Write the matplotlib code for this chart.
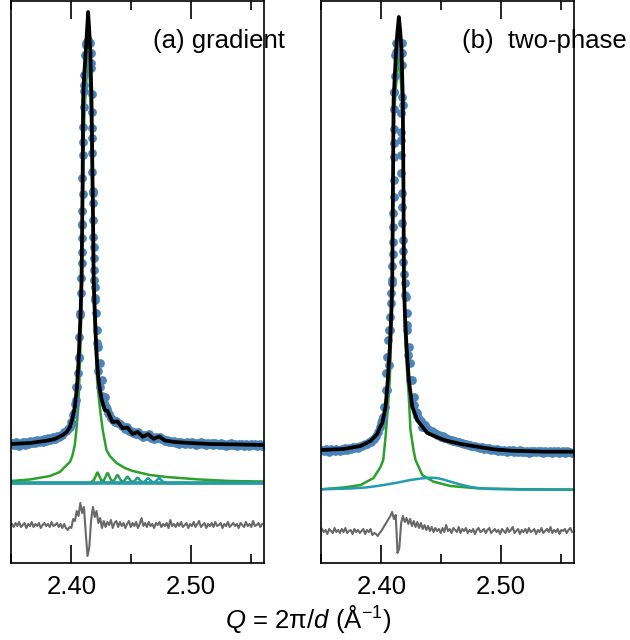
import numpy as np
import matplotlib
matplotlib.use('Agg')
import matplotlib.pyplot as plt
from matplotlib.ticker import MultipleLocator, FormatStrFormatter
from matplotlib.colors import to_rgb

plt.rcParams['font.family'] = ['Liberation Sans', 'DejaVu Sans']
plt.rcParams['mathtext.fontset'] = 'custom'
plt.rcParams['mathtext.rm'] = 'Liberation Sans'
plt.rcParams['mathtext.it'] = 'Liberation Sans:italic'

Q_MIN, Q_MAX = 2.3497, 2.5606
# observed data and residual are sampled on a regular Q grid
GRID_START, GRID_STEP = 2.3505, 0.0015

# ---------------- (a) gradient ----------------
a_obs = [40.5, 38, 41, 39.5, 37.5, 40, 41, 38.5, 41, 39,
         42, 40, 42, 40, 43, 41, 43.5, 41, 44, 42.5,
         45, 43, 44, 46, 44, 47, 46, 48.5, 48, 51,
         52, 54, 56.5,
         61, 68, 79, 96, 125, 168, 258, 398, 438, 443, 441, 420, 290, 185, 140, 112,
         96, 87, 80, 76, 74, 69, 65, 63, 61, 62, 60, 59, 57, 56, 54, 56, 52, 52,
         50, 51, 49, 51, 48, 48, 46, 48, 47, 49, 45, 46, 44, 46, 45, 46, 44, 44,
         42, 43, 41, 42.5, 41, 42, 40.5,
         41, 39.5, 41.5, 40, 39, 41, 40.5, 39, 41, 40,
         38.5, 40.5, 39.5, 41, 39, 40, 38.5, 40.5, 39, 40,
         38, 40, 39.5, 38, 40, 38.5, 39.5, 37.5, 39.5, 38.5,
         40, 38, 39, 37.5, 39.5, 38, 39, 37.5, 39, 38.5,
         37.5, 39.5, 38, 39, 37.5, 38.5, 39, 37.5]

# extra observed points on the steep flanks of the peak
a_peak_q = [2.4121, 2.4113, 2.4107, 2.4104, 2.4102, 2.4100, 2.4098, 2.4100, 2.4093,
            2.4096, 2.4090, 2.4088, 2.4088, 2.4085, 2.4085, 2.4081, 2.4077, 2.4071,
            2.4065, 2.4060, 2.4052, 2.4043, 2.4035, 2.4021, 2.4004,
            2.4154, 2.4167, 2.4168, 2.4171, 2.4171, 2.4173, 2.4173, 2.4173, 2.4175,
            2.4177, 2.4182, 2.4182, 2.4183, 2.4188, 2.4190, 2.4192, 2.4192, 2.4196,
            2.4200, 2.4207, 2.4215, 2.4225, 2.4238, 2.4257, 2.4279, 2.4307]
a_peak = [440, 428, 408, 392, 376, 356, 341, 328, 305,
          289, 272, 259, 245, 231, 220, 205, 190, 170,
          146, 126, 110, 96, 83, 70, 60,
          440, 430, 415, 389, 371, 355, 345, 330, 311,
          292, 280, 263, 246, 236, 225, 213, 203, 196,
          183, 170, 153, 136, 120, 103, 86, 70]

a_fit_q = [2.3497, 2.3654, 2.3779, 2.3862, 2.3929, 2.3962, 2.3988, 2.4008, 2.4029,
           2.4046, 2.4057, 2.4065, 2.4077, 2.4085, 2.4090, 2.4094, 2.4098, 2.4108,
           2.4121, 2.4132, 2.4140, 2.4148, 2.4158, 2.4168, 2.4177, 2.4182, 2.4186,
           2.4196, 2.4206, 2.4215, 2.4225, 2.4238, 2.4254, 2.4279, 2.4302, 2.4343,
           2.4385, 2.4427, 2.4468, 2.4510, 2.4552, 2.4596, 2.4640, 2.4686, 2.4732,
           2.4779, 2.4862, 2.4988, 2.5154, 2.5404, 2.5604]
a_fit = [39, 40, 42, 44, 48, 51, 56, 64, 76,
         95, 115, 136, 170, 203, 255, 300, 383, 410,
         433, 455, 471, 455, 433, 383, 300, 255, 203,
         170, 140, 120, 105, 93, 83, 73, 72, 61,
         61.5, 54.8, 55.5, 49, 51, 46.3, 48.8, 44.2, 46.5,
         42.5, 41, 40, 39, 38.5, 38]

a_main_q = [2.3497, 2.3654, 2.3821, 2.3904, 2.3962, 2.3988, 2.4008, 2.4029, 2.4046,
            2.4057, 2.4065, 2.4073, 2.4081, 2.4088, 2.4093, 2.4098, 2.4103, 2.4111,
            2.4121, 2.4132, 2.4140, 2.4148, 2.4158, 2.4167, 2.4173, 2.4179, 2.4184,
            2.4192, 2.4202, 2.4215, 2.4229, 2.4243, 2.4263, 2.4293, 2.4321, 2.4377,
            2.4446, 2.4512, 2.4654, 2.4796, 2.5071, 2.5321, 2.5604]
a_main = [2, 3.5, 7, 11, 18, 21, 27, 38, 58,
          75, 97, 125, 160, 200, 250, 300, 345, 375,
          395, 415, 431, 415, 393, 350, 300, 245, 200,
          165, 135, 103, 85, 70, 52, 33, 27, 20,
          15, 12, 8, 6, 3.5, 2, 1.5]

# small satellite peaks of the gradient model
a_sub_centers = [2.4218, 2.4302, 2.4385, 2.4468, 2.4552, 2.4640, 2.4732]
a_sub_heights = [10.5, 10, 8, 6.3, 5.3, 4.8, 5]
sub_shape_dq = [-0.0075, -0.005, -0.003, -0.0015, -0.0006, 0, 0.0006, 0.0015, 0.003, 0.005, 0.0075]
sub_shape = [0, 0.1, 0.3, 0.65, 0.92, 1, 0.92, 0.65, 0.3, 0.1, 0]

a_diff = [1, -2, 2, -1, 3, -2, 0, 2, -3, 1,
          -1, 3, -2, 1, -1, 2, -3, 0, 2, -1,
          1, -2, 3, -1, 0, 2, -2, 1, -3, 1,
          -3, -5, -2, -3, 6, 4, 14, 9, 22, 12,
          18, -8, -31, -22, 5, 18, 8, 14, 2, 7,
          -3, 4, -2, 3, 0, 5, -3, 2, 4, -2,
          3, -1, 2, -3, 1, 4, -2, 2, -1, 3,
          -3, 1, 7, -1, 2, -2, 3, -1, 1, -3,
          2, 0, 3, -2, 1, -1, 2, -3, 5, -1,
          1, -2,
          2, -1, 3, -2, 0, 2, -3, 1, -1, 3,
          -2, 1, 4, -2, 0, 2, -3, 1, -1, 2,
          -2, 3, -1, 0, 2, -3, 1, -1, 3, -2,
          0, 2, -1, 1, -3, 2, 0, -2, 3, -1,
          1, -2, 4, -1, 0, 2, -2, 1]

# ---------------- (b) two-phase ----------------
b_obs = [40.5, 39, 41, 40, 38.5, 41, 40, 39.5, 41.5, 40,
         39, 41.5, 40.5, 42, 40.5, 42, 41, 43, 42, 43.5,
         42.5, 44, 44.5, 45, 46, 46, 48, 48.5, 50, 51.5,
         54, 58, 63,
         67, 73, 83, 100, 125, 160, 210, 398, 438, 446, 447, 437, 385, 195, 165, 135,
         110, 92, 85, 78, 74, 71, 69, 66, 65, 62, 61, 59, 59, 57, 57, 55, 55.5, 53.5,
         54, 52, 52.5, 51, 50.5, 50, 49, 49.5, 48, 48.5, 47, 47.5, 46, 46.5, 45,
         45.5, 44.5, 44, 44.5, 43, 43.5, 42.5, 43, 41.5, 42.5, 41, 42, 40.5, 41.5,
         40, 41, 39.5, 40.5, 39, 40.5, 39.5, 38.5, 40, 39,
         40, 38.5, 39.5, 38.5, 40, 38, 39.5, 38.5, 39, 37.5,
         39.5, 38.5, 39, 38, 39.5, 38, 39, 37.5, 39, 38.5,
         38, 39.5, 37.5, 39, 38, 39, 37.5, 38.5, 39, 37.5,
         39, 38, 38.5, 37.5]

b_peak_q = [2.4123, 2.4114, 2.4110, 2.4108, 2.4104, 2.4104, 2.4108, 2.4108, 2.4104,
            2.4104, 2.4099, 2.4099, 2.4096, 2.4096, 2.4091, 2.4091, 2.4083, 2.4077,
            2.4071, 2.4063, 2.4058, 2.4049, 2.4043, 2.4035, 2.4021, 2.4008,
            2.4174, 2.4174, 2.4174, 2.4171, 2.4163, 2.4166, 2.4168, 2.4168, 2.4168,
            2.4174, 2.4174, 2.4174, 2.4179, 2.4183, 2.4183, 2.4188, 2.4198, 2.4203,
            2.4210, 2.4218, 2.4229, 2.4239, 2.4252, 2.4271, 2.4299, 2.4341]
b_peak = [447, 435, 414, 398, 381, 361, 347, 333, 310,
          293, 277, 263, 248, 236, 224, 207, 197, 187,
          173, 160, 150, 133, 117, 100, 83, 70,
          447, 437, 425, 393, 377, 358, 350, 335, 317,
          297, 283, 267, 250, 239, 228, 216, 207, 193,
          177, 160, 143, 127, 110, 93, 77, 63]

b_fit_q = [2.3497, 2.3685, 2.3827, 2.3910, 2.3966, 2.3985, 2.4008, 2.4035, 2.4054,
           2.4071, 2.4083, 2.4091, 2.4096, 2.4102, 2.4123, 2.4134, 2.4146, 2.4158,
           2.4168, 2.4179, 2.4185, 2.4188, 2.4196, 2.4210, 2.4229, 2.4258, 2.4299,
           2.4383, 2.4521, 2.4660, 2.4799, 2.4938, 2.5077, 2.5352, 2.5604]
b_fit = [40, 41, 44, 49, 56, 62, 67, 83, 110,
         143, 177, 210, 290, 390, 440, 458, 473, 458,
         440, 390, 290, 210, 177, 143, 110, 83, 70,
         57, 50, 46, 43.3, 40.7, 39.3, 38.3, 38.3]

b_main_q = [2.3497, 2.3685, 2.3827, 2.3935, 2.3993, 2.4016, 2.4035, 2.4054, 2.4071,
            2.4083, 2.4091, 2.4096, 2.4100, 2.4106, 2.4123, 2.4135, 2.4146, 2.4157,
            2.4168, 2.4177, 2.4183, 2.4187, 2.4190, 2.4196, 2.4210, 2.4229, 2.4243,
            2.4268, 2.4285, 2.4341, 2.4435, 2.4577, 2.4799, 2.5160, 2.5604]
b_main = [0.7, 2.5, 5, 12, 23, 30, 53, 82, 112,
          158, 193, 255, 330, 375, 405, 420, 433, 420,
          400, 370, 330, 260, 193, 160, 127, 93, 60,
          40, 30, 15, 8.3, 4, 1.7, 0.8, 0.5]

b_second_q = [2.3497, 2.3743, 2.3868, 2.3968, 2.4118, 2.4243, 2.4327, 2.4410, 2.4460,
              2.4518, 2.4577, 2.4660, 2.4743, 2.4827, 2.4910, 2.5160, 2.5604]
b_second = [0.7, 1.5, 2.5, 4, 7, 10, 11.5, 12.3, 12,
            10.5, 8.3, 5.5, 3, 1.7, 1, 0.4, 0.2]

b_diff = [2, -1, 1, -3, 2, 0, -2, 3, -1, 1,
          -2, 2, -1, 3, -2, 0, 1, -3, 2, -1,
          1, -2, 0, 2, -3, 1, -1, 2, -4, -2,
          -3, -5, -2,
          0, 3, 6, 9, 12, 15, 19, 12, 16, -22, -17, 8, 15, 9, 13, 7,
          12, 5, 10, 4, 9, 3, 8, 2, 6, 1, 5, 0, 4,
          -1, 3, 0, 2, -2, 3, -1, 6, 0, 2,
          -2, 3, 1, -1, 4, -2, 2, 0, 3, -2,
          1, -1, 2, -3, 1, 3, -1, 0, 2, -2,
          1, 3, -2, 0, 2, -1, 1, -3, 2, 0,
          -2, 3, -1, 1, 4, -2, 0, 2, -3, 1,
          -1, 2, -2, 3, -1, 0, 2, -3, 1, -1,
          3, -2, 0, 2, -1, 4, -2, 1, -1, 2,
          -3, 1, 0, 2, -2, 1, 3, -1]

OBS_COLOR = '#4a84b8'
MAIN_COLOR = '#2ca02c'
SECOND_COLOR = '#249cb0'
DIFF_COLOR = '#686868'
FS = 18.5


def grid(values):
    return GRID_START + GRID_STEP * np.arange(len(values))


def style_axis(ax, ylim):
    ax.set_xlim(Q_MIN, Q_MAX)
    ax.set_ylim(*ylim)
    ax.set_yticks([])
    ax.xaxis.set_major_locator(MultipleLocator(0.1))
    ax.xaxis.set_minor_locator(MultipleLocator(0.05))
    ax.xaxis.set_major_formatter(FormatStrFormatter('%.2f'))
    ax.tick_params(axis='x', which='major', direction='in', top=True,
                   length=13, width=1.2, labelsize=FS, pad=9)
    ax.tick_params(axis='x', which='minor', direction='in', top=True,
                   length=6.5, width=1.2)
    for s in ax.spines.values():
        s.set_linewidth(1.2)


def draw_common(ax, obs, peak_q, peak, fit_q, fit, diff, diff_offset):
    ax.plot(grid(obs), obs, 'o', ms=6.3, mew=0, color=OBS_COLOR, zorder=2)
    ax.plot(peak_q, peak, 'o', ms=6.3, mew=0, color=OBS_COLOR, zorder=2)
    ax.plot(fit_q, fit, color='black', lw=2.7, zorder=3)
    ax.plot(grid(diff), np.array(diff) + diff_offset, color=DIFF_COLOR, lw=1.5, zorder=2)


fig = plt.figure(figsize=(6.3, 6.4), dpi=100)
ax_a = fig.add_axes([11 / 630, 77 / 640, 253 / 630, 562 / 640])
ax_b = fig.add_axes([321 / 630, 77 / 640, 253 / 630, 562 / 640])

# panel (a)
ax_a.plot(a_main_q, a_main, color=MAIN_COLOR, lw=1.8, zorder=1.5)
g, t = np.array(to_rgb(MAIN_COLOR)), np.array(to_rgb(SECOND_COLOR))
for k, (c, h) in enumerate(zip(a_sub_centers, a_sub_heights)):
    q = [Q_MIN] + [c + d for d in sub_shape_dq] + [Q_MAX]
    y = [0] + [h * r for r in sub_shape] + [0]
    f = k / (len(a_sub_centers) - 1)
    ax_a.plot(q, y, color=tuple(g * (1 - f) + t * f), lw=1.8, zorder=1.6)
draw_common(ax_a, a_obs, a_peak_q, a_peak, a_fit_q, a_fit, a_diff, -42)
style_axis(ax_a, (-80, 482))
ax_a.text(0.561, 0.916, '(a) gradient', transform=ax_a.transAxes,
          fontsize=FS, ha='left', va='baseline')

# panel (b)
ax_b.plot(b_main_q, b_main, color=MAIN_COLOR, lw=1.8, zorder=1.5)
ax_b.plot(b_second_q, b_second, color=SECOND_COLOR, lw=1.8, zorder=1.6)
draw_common(ax_b, b_obs, b_peak_q, b_peak, b_fit_q, b_fit, b_diff, -41)
style_axis(ax_b, (-73, 489))
ax_b.text(0.557, 0.916, '(b)  two-phase', transform=ax_b.transAxes,
          fontsize=FS, ha='left', va='baseline')

fig.text(0.489, 0.019, r'$Q$ = 2π/$d$ (Å$^{-1}$)', ha='center', va='baseline', fontsize=FS)

fig.savefig('out.png', dpi=100)
